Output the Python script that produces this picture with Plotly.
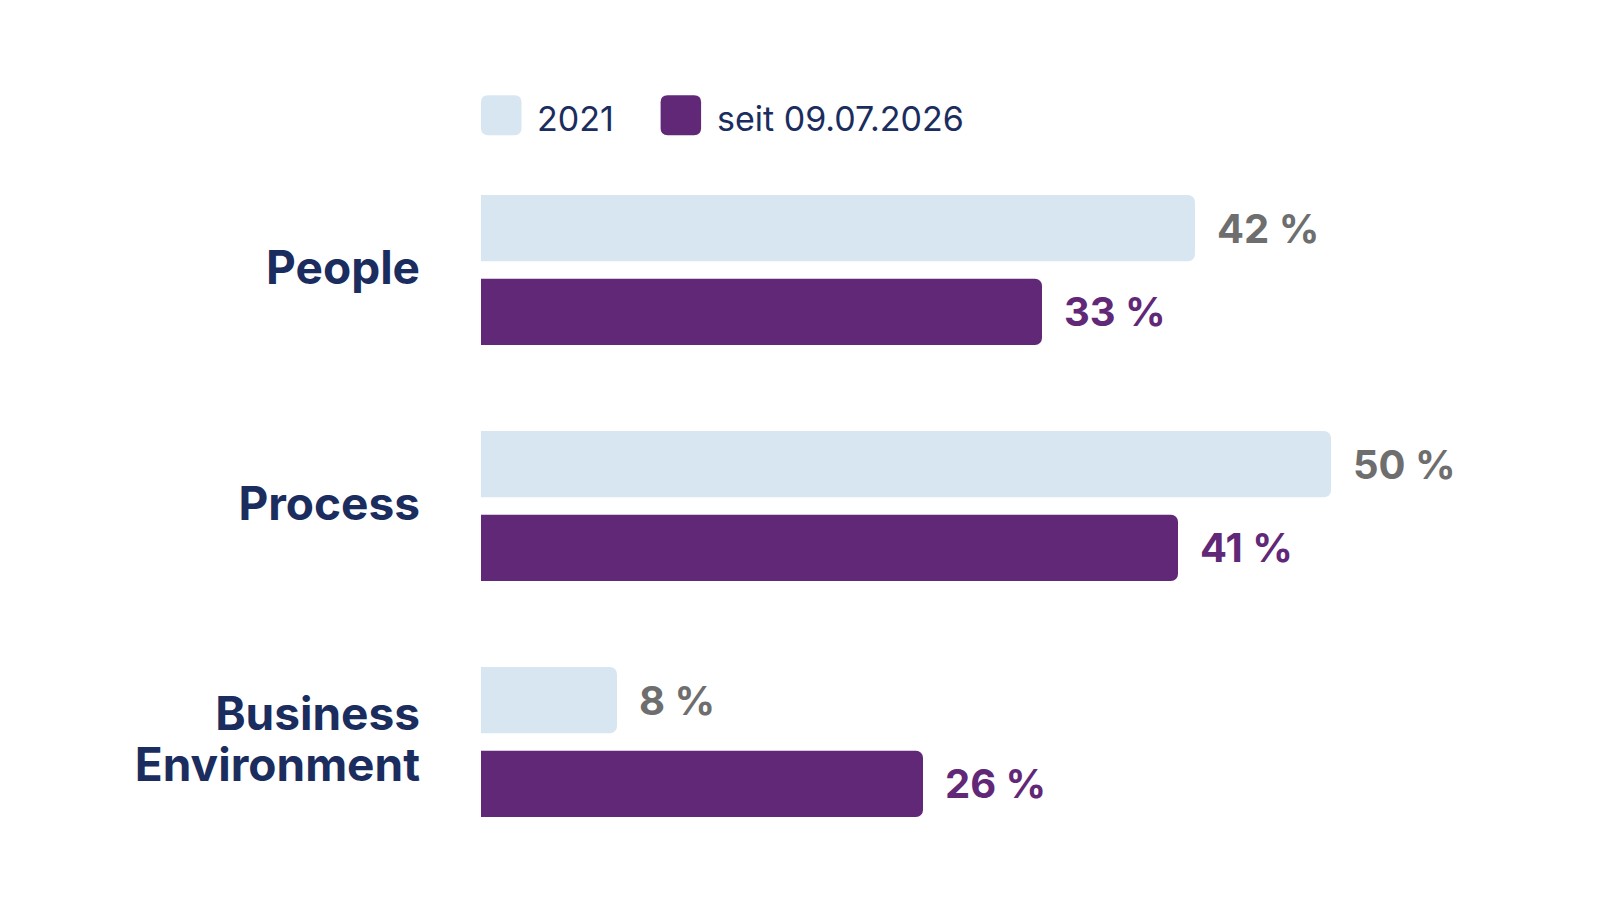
import plotly.graph_objects as go

categories = ["People", "Process", "Business<br>Environment"]
series_names = ["2021", "seit 09.07.2026"]
values_2021 = [42, 50, 8]
values_seit = [33, 41, 26]

LIGHT = "#d8e6f1"
PURPLE = "#612878"
NAVY = "#1b2d5e"
GREY = "#6e6e6e"
FONT = "Inter"

W, H = 1600, 900
L, R, T, B = 472.6, 107.4, 143.8, 47.6
XMAX = 60

fig = go.Figure()
fig.add_trace(go.Bar(
    y=categories, x=values_2021, orientation="h", name=series_names[0],
    marker=dict(color=LIGHT, line=dict(width=0)),
    texttemplate="\u00a0\u00a0%{x}\u00a0%", textposition="outside",
    textfont=dict(family=FONT, size=40, color=GREY, weight="bold"),
    cliponaxis=False, constraintext="none", hoverinfo="skip",
))
fig.add_trace(go.Bar(
    y=categories, x=values_seit, orientation="h", name=series_names[1],
    marker=dict(color=PURPLE, line=dict(width=0)),
    texttemplate="\u00a0\u00a0%{x}\u00a0%", textposition="outside",
    textfont=dict(family=FONT, size=40, color=PURPLE, weight="bold"),
    cliponaxis=False, constraintext="none", hoverinfo="skip",
))

pw, ph = W - L - R, H - T - B


def px2paper(x, y):
    return (x - L) / pw, 1 - (y - T) / ph


def rounded_rect(x0, y0, x1, y1, r):
    def P(x, y):
        a, b = px2paper(x, y)
        return f"{a:.5f},{b:.5f}"
    return (
        f"M{P(x0 + r, y0)} L{P(x1 - r, y0)} Q{P(x1, y0)} {P(x1, y0 + r)} "
        f"L{P(x1, y1 - r)} Q{P(x1, y1)} {P(x1 - r, y1)} "
        f"L{P(x0 + r, y1)} Q{P(x0, y1)} {P(x0, y1 - r)} "
        f"L{P(x0, y0 + r)} Q{P(x0, y0)} {P(x0 + r, y0)} Z"
    )


legend_items = [(472.6, 526.8, series_names[0], LIGHT),
                (652.2, 706.3, series_names[1], PURPLE)]
shapes, annotations = [], []
for sx, tx, name, col in legend_items:
    shapes.append(dict(type="path", xref="paper", yref="paper",
                       path=rounded_rect(sx, 87, sx + 40.5, 127, 7),
                       fillcolor=col, line=dict(width=0)))
    ax, ay = px2paper(tx, 110)
    annotations.append(dict(xref="paper", yref="paper", x=ax, y=ay,
                            xanchor="left", yanchor="middle", showarrow=False,
                            text=name, font=dict(family=FONT, size=34, color=NAVY)))

tick_text = [
    "<br>".join(f'<span style="font-size:46px">{part}</span>' for part in c.split("<br>"))
    for c in categories
]

fig.update_layout(
    width=W, height=H,
    margin=dict(l=L, r=R, t=T, b=B, pad=0),
    paper_bgcolor="white", plot_bgcolor="white",
    barmode="group", bargap=0.291, bargroupgap=0.208, barcornerradius=7,
    showlegend=False,
    font=dict(family=FONT, color=NAVY),
    xaxis=dict(range=[0, XMAX], visible=False, fixedrange=True),
    yaxis=dict(autorange=False, range=[2.5, -0.5], showgrid=False, zeroline=False,
               showline=False, ticks="", ticklabelstandoff=60,
               tickmode="array", tickvals=categories, ticktext=tick_text,
               tickfont=dict(family=FONT, size=39, color=NAVY, weight="bold"),
               fixedrange=True),
    shapes=shapes, annotations=annotations,
    hovermode=False,
)

fig.write_html("out.html")
